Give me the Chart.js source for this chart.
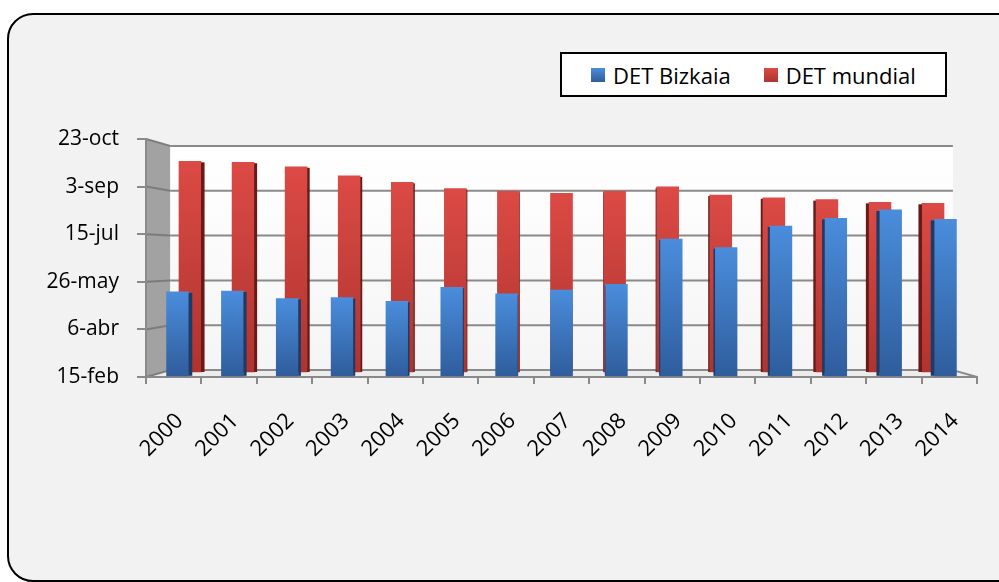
<!DOCTYPE html>
<html>
<head>
<meta charset="utf-8">
<script src="https://cdn.jsdelivr.net/npm/chart.js@4.4.1/dist/chart.umd.min.js"></script>
<style>
  html, body { margin: 0; padding: 0; width: 999px; height: 582px; overflow: hidden; background: #fff; }
  #tarjeta { position: absolute; left: 7px; top: 13px; width: 1020px; height: 569px; box-sizing: border-box;
             border: 2.5px solid #000; border-radius: 26px; background: #f2f2f2; }
  #grafico { position: absolute; left: 0; top: 0; }
  #leyenda { position: absolute; left: 560px; top: 52px; width: 387px; height: 45px; box-sizing: border-box;
             border: 2.5px solid #000; background: #fff; display: flex; align-items: center; padding-left: 29px;
             font: 22px 'Open Sans', sans-serif; color: #000; }
  .item { display: flex; align-items: center; margin-right: 33px; white-space: nowrap; }
  .cuadro { width: 14px; height: 14px; margin-right: 8px; }
</style>
</head>
<body>
<div id="tarjeta"></div>
<canvas id="grafico" width="999" height="582"></canvas>
<div id="leyenda"></div>
<script>
// Años (categorías)
const years = ['2000', '2001', '2002', '2003', '2004', '2005', '2006', '2007',
               '2008', '2009', '2010', '2011', '2012', '2013', '2014'];
const seriesNames = ['DET Bizkaia', 'DET mundial'];

// Valores como día del año (1 = 1-ene)
const detBizkaia = [135, 136, 128, 129, 125, 140, 133, 137, 143, 191, 182, 205, 213, 222, 212];
const detMundial = [277, 276, 271, 261, 254, 247, 244, 242, 244, 249, 240, 237, 235, 232, 231];

// Marcas del eje vertical
const yTickValues = [46, 96, 146, 196, 246, 296];
const yTickLabels = ['15-feb', '6-abr', '26-may', '15-jul', '3-sep', '23-oct'];

// Perspectiva: escala de la pared del fondo y de cada fila de columnas
const FONDO = 0.942;
const FILAS = [0.99, 0.958];

const grisEje = '#8a8a8a';
const coloresSerie = [['#4a8ddc', '#2f5d9c'], ['#dc4a45', '#ae342f']];
const coloresLado = ['#1d3b66', '#6a1917'];

const yMin = yTickValues[0];
const yMax = yTickValues[yTickValues.length - 1];
const yMid = (yMin + yMax) / 2;
const nCat = years.length;

Chart.defaults.font.family = "'Open Sans', sans-serif";

// Ejes ocultos de cada fila, encogidos hacia el centro según la profundidad
function ejeFilaX(f) {
  return { type: 'linear', axis: 'x', display: false, offset: false,
           min: (nCat - 1) / 2 - nCat / (2 * f), max: (nCat - 1) / 2 + nCat / (2 * f) };
}
function ejeFilaY(f) {
  return { type: 'linear', axis: 'y', display: false,
           min: yMid - (yMax - yMin) / (2 * f), max: yMid + (yMax - yMin) / (2 * f) };
}

// Degradado vertical por columna
function relleno(c, ejeY, serie) {
  const [arriba, abajo] = coloresSerie[serie];
  if (c.type !== 'data') return arriba;
  const sc = c.chart.scales[ejeY];
  if (!sc) return arriba;
  const y0 = sc.getPixelForValue(c.parsed.y);
  const y1 = sc.getPixelForValue(yMin);
  if (!isFinite(y0) || !isFinite(y1)) return arriba;
  const g = c.chart.ctx.createLinearGradient(0, y0, 0, y1);
  g.addColorStop(0, arriba);
  g.addColorStop(1, abajo);
  return g;
}

// Paredes, suelo y cuadrícula en 3D
const fondo3d = {
  id: 'fondo3d',
  beforeDraw(chart) {
    const { ctx, chartArea: a, scales } = chart;
    const cx = (a.left + a.right) / 2, cy = (a.top + a.bottom) / 2;
    const bx = x => cx + (x - cx) * FONDO;
    const by = y => cy + (y - cy) * FONDO;
    ctx.save();

    let g = ctx.createLinearGradient(0, by(a.top), 0, by(a.bottom));
    g.addColorStop(0, '#ffffff');
    g.addColorStop(1, '#f5f5f5');
    ctx.fillStyle = g;
    ctx.fillRect(bx(a.left), by(a.top), bx(a.right) - bx(a.left), by(a.bottom) - by(a.top));

    ctx.fillStyle = '#a2a2a2';
    ctx.beginPath();
    ctx.moveTo(a.left, a.top);
    ctx.lineTo(bx(a.left), by(a.top));
    ctx.lineTo(bx(a.left), by(a.bottom));
    ctx.lineTo(a.left, a.bottom);
    ctx.closePath();
    ctx.fill();

    ctx.fillStyle = '#ececec';
    ctx.beginPath();
    ctx.moveTo(a.left, a.bottom);
    ctx.lineTo(bx(a.left), by(a.bottom));
    ctx.lineTo(bx(a.right), by(a.bottom));
    ctx.lineTo(a.right, a.bottom);
    ctx.closePath();
    ctx.fill();

    ctx.lineWidth = 2;
    yTickValues.forEach(v => {
      const yf = scales.y.getPixelForValue(v);
      ctx.strokeStyle = '#7c7c7c';
      ctx.beginPath();
      ctx.moveTo(a.left, yf);
      ctx.lineTo(bx(a.left), by(yf));
      ctx.stroke();
      ctx.strokeStyle = grisEje;
      ctx.beginPath();
      ctx.moveTo(bx(a.left), by(yf));
      ctx.lineTo(bx(a.right), by(yf));
      ctx.stroke();
    });
    ctx.beginPath();
    ctx.moveTo(bx(a.right), by(a.bottom));
    ctx.lineTo(a.right, a.bottom);
    ctx.stroke();
    ctx.restore();
  }
};

// Caras laterales de las columnas
const caras3d = {
  id: 'caras3d',
  afterDatasetDraw(chart, args) {
    const { ctx, chartArea: a } = chart;
    const cx = (a.left + a.right) / 2, half = (a.right - a.left) / 2;
    ctx.save();
    ctx.fillStyle = coloresLado[args.index];
    args.meta.data.forEach(bar => {
      const { x, y, width, base } = bar.getProps(['x', 'y', 'width', 'base'], true);
      const s = -4 * (x - cx) / half;
      const borde = s > 0 ? x + width / 2 : x - width / 2 + s;
      ctx.fillRect(borde, y + 1, Math.abs(s), base - y - 1);
    });
    ctx.restore();
  }
};

const chart = new Chart(document.getElementById('grafico'), {
  type: 'bar',
  data: {
    labels: years,
    datasets: [
      {
        label: seriesNames[0],
        data: detBizkaia.map((v, i) => ({ x: i, y: v })),
        xAxisID: 'xa',
        yAxisID: 'ya',
        base: yMin,
        grouped: false,
        barThickness: 22,
        order: 0,
        backgroundColor: c => relleno(c, 'ya', 0)
      },
      {
        label: seriesNames[1],
        data: detMundial.map((v, i) => ({ x: i, y: v })),
        xAxisID: 'xb',
        yAxisID: 'yb',
        base: yMin,
        grouped: false,
        barThickness: 22,
        order: 1,
        backgroundColor: c => relleno(c, 'yb', 1)
      }
    ]
  },
  options: {
    responsive: false,
    animation: false,
    layout: { padding: { top: 139, right: 22, left: 0, bottom: 0 } },
    plugins: {
      legend: { display: false },
      tooltip: { enabled: false }
    },
    scales: {
      x: {
        type: 'category',
        offset: true,
        grid: { offset: true, drawOnChartArea: false, color: grisEje, lineWidth: 2, tickLength: 7 },
        border: { color: grisEje, width: 2 },
        ticks: {
          minRotation: 45, maxRotation: 45, autoSkip: false,
          color: '#000', font: { size: 22 }, padding: 24, labelOffset: 6
        },
        afterFit: s => { s.height = 205; }
      },
      y: {
        type: 'linear',
        min: yMin,
        max: yMax,
        afterBuildTicks: s => { s.ticks = yTickValues.map(v => ({ value: v })); },
        grid: { drawOnChartArea: false, color: grisEje, lineWidth: 2, tickLength: 9 },
        border: { color: grisEje, width: 2 },
        ticks: { color: '#000', font: { size: 21 }, padding: 18, callback: (v, i) => yTickLabels[i] },
        afterFit: s => { s.width = 146; }
      },
      xa: ejeFilaX(FILAS[0]),
      ya: ejeFilaY(FILAS[0]),
      xb: ejeFilaX(FILAS[1]),
      yb: ejeFilaY(FILAS[1])
    }
  },
  plugins: [fondo3d, caras3d]
});

// Leyenda en HTML
const leyenda = document.getElementById('leyenda');
chart.data.datasets.forEach((ds, i) => {
  const item = document.createElement('div');
  item.className = 'item';
  const cuadro = document.createElement('span');
  cuadro.className = 'cuadro';
  cuadro.style.background = 'linear-gradient(' + coloresSerie[i][0] + ', ' + coloresSerie[i][1] + ')';
  const texto = document.createElement('span');
  texto.textContent = ds.label;
  item.appendChild(cuadro);
  item.appendChild(texto);
  leyenda.appendChild(item);
});
</script>
</body>
</html>
